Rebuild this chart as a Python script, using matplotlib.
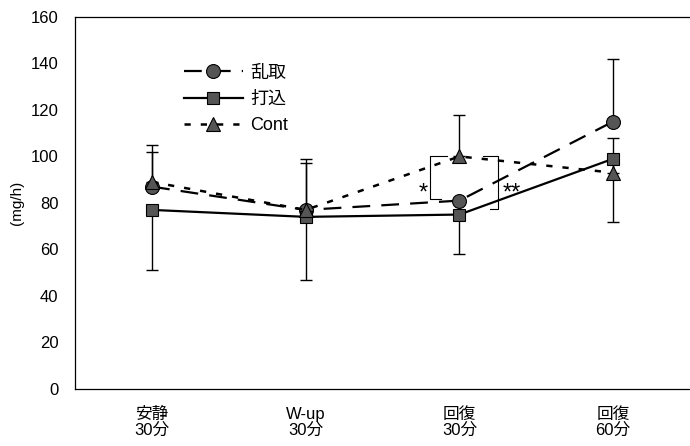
import numpy as np
import matplotlib.pyplot as plt

plt.rcParams['font.family'] = ['Liberation Sans', 'Noto Sans CJK JP', 'DejaVu Sans']

categories = ['安静\n30分', 'W-up\n30分', '回復\n30分', '回復\n60分']
randori = [87, 77, 81, 115]
uchikomi = [77, 74, 75, 99]
cont = [89, 77, 100, 93]

# one-sided error bars as they appear in the picture
randori_up = [18, 22, 0, 27]
cont_up = [13, 20, 18, 15]
uchikomi_down = [26, 27, 17, 27]

x = np.arange(len(categories)) + 0.5

fig = plt.figure(figsize=(6.9, 4.46), dpi=100)
ax = fig.add_axes([0.109, 0.128, 0.891, 0.834])

ebkw = dict(fmt='none', ecolor='black', elinewidth=1.0, capsize=4, capthick=1.0)
ax.errorbar(x, randori, yerr=[np.zeros(4), randori_up], **ebkw)
ax.errorbar(x, cont, yerr=[np.zeros(4), cont_up], **ebkw)
ax.errorbar(x, uchikomi, yerr=[uchikomi_down, np.zeros(4)], **ebkw)

mk = dict(markerfacecolor='#555555', markeredgecolor='black', markeredgewidth=0.8, color='black')
ax.plot(x, randori, linestyle=(0, (8, 5)), linewidth=1.6, marker='o', markersize=10, label='乱取', **mk)
ax.plot(x, uchikomi, linestyle='-', linewidth=1.6, marker='s', markersize=9, label='打込', **mk)
ax.plot(x, cont, linestyle=(0, (2.5, 4)), linewidth=1.8, marker='^', markersize=10, label='Cont', **mk)

# significance brackets
ax.plot([2.42, 2.31, 2.31, 2.38], [100.2, 100.2, 81.7, 81.7], color='black', linewidth=0.8)
ax.plot([2.65, 2.75, 2.75, 2.70], [100.2, 100.2, 77.4, 77.4], color='black', linewidth=0.8)
ax.text(2.265, 84, '*', ha='center', va='center', fontsize=17)
ax.text(2.84, 84, '**', ha='center', va='center', fontsize=17)

ax.set_xlim(0, 4)
ax.set_ylim(0, 160)
ax.set_yticks(np.arange(0, 161, 20))
ax.set_xticks(x)
ax.set_xticklabels(categories, fontsize=12, linespacing=1.05)
ax.tick_params(axis='x', length=0, pad=13)
ax.tick_params(axis='y', length=0, labelsize=12, pad=12)
ax.set_ylabel('(mg/h)', fontsize=11, labelpad=5)
ax.spines['right'].set_visible(False)
for s in ['left', 'top', 'bottom']:
    ax.spines[s].set_linewidth(0.9)

ax.legend(loc='upper left', bbox_to_anchor=(0.15, 0.915), frameon=False, fontsize=13,
          handlelength=3.3, labelspacing=0.5, handletextpad=0.4)

fig.savefig('out.png', dpi=100)
